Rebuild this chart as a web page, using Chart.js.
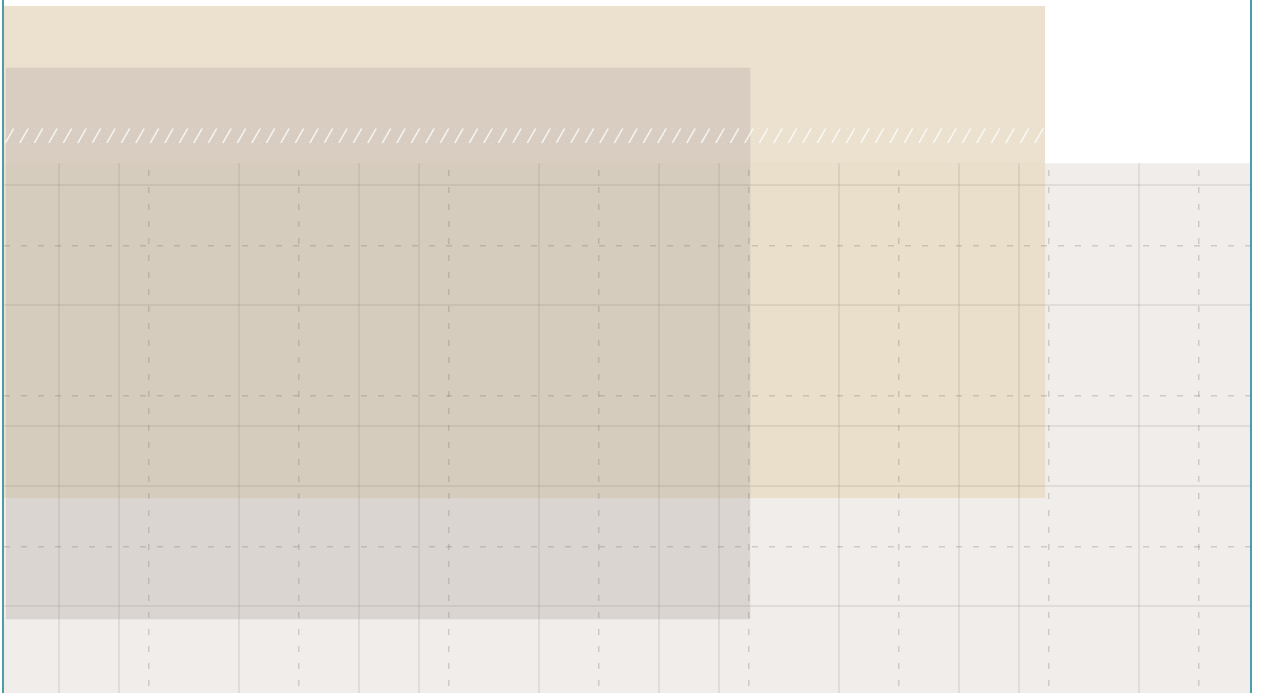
<!DOCTYPE html>
<html>
<head>
<meta charset="utf-8">
<script src="https://cdn.jsdelivr.net/npm/chart.js@4"></script>
<style>
  html, body { margin: 0; padding: 0; background: #ffffff; overflow: hidden; }
  #wrap { position: relative; width: 1263px; height: 693px; }
  #frame { position: absolute; left: 2px; top: 0; width: 1246px; height: 693px;
           border-left: 2px solid #4C9DAA; border-right: 2px solid #4C9DAA; pointer-events: none; }
  canvas { display: block; }
</style>
</head>
<body>
<div id="wrap">
  <canvas id="c" width="1263" height="693"></canvas>
  <div id="frame"></div>
</div>
<script>
// ---- axis ranges (chart units) ----
const xRange = [0.0333, 8.34];
const yRange = [0.025, 4.63];

// ---- grid tick values ----
const xSolidTicks = [0.4, 0.8, 1.6, 2.4, 2.8, 3.6, 4.4, 4.8, 5.6, 6.4, 6.8, 7.6];
const xDashTicks  = [1, 2, 3, 4, 5, 6, 7, 8];
const ySolidTicks = [0.6, 1.4, 1.8, 2.6, 3.4];
const yDashTicks  = [1, 2, 3];

// ---- plot panel ----
const panelTop = 3.545;

// ---- blocks (series) ----
const blockNames  = ['Outer block', 'Inner block'];
const blockStart  = [0.0333, 0.045];
const blockEnd    = [6.975, 5.01];
const blockTop    = [4.59, 4.18];
const blockBottom = [1.32, 0.515];

// ---- hatch strip ----
const hatchStart = 0.0333;
const hatchEnd = 6.975;
const hatchTop = 3.778;
const hatchBottom = 3.678;

const SOLID = 'rgba(140,128,120,0.16)';
const DASH  = 'rgba(120,110,105,0.28)';
const blockColors = ['rgba(232,220,197,0.85)', 'rgba(180,170,165,0.35)'];

let hatchFill = 'rgba(0,0,0,0)';

function buildHatch(chart) {
  const x = chart.scales.x, y = chart.scales.y;
  if (!x || !y) return;
  const top = y.getPixelForValue(hatchTop);
  const bottom = y.getPixelForValue(hatchBottom);
  const left = x.left;
  if (!isFinite(top) || !isFinite(bottom) || !isFinite(left)) return;
  const h = Math.max(2, Math.round(bottom - top));
  const c = document.createElement('canvas');
  c.width = 29; c.height = h;
  const g = c.getContext('2d');
  g.strokeStyle = 'rgba(255,255,255,0.85)';
  g.lineWidth = 1.5;
  g.lineCap = 'round';
  for (const off of [0, 14.5]) {
    g.beginPath();
    g.moveTo(off + 1.5, h - 0.5);
    g.lineTo(off + 9.5, 0.5);
    g.stroke();
  }
  const p = chart.ctx.createPattern(c, 'repeat');
  if (p && p.setTransform) p.setTransform(new DOMMatrix().translate(left, top));
  hatchFill = p || hatchFill;
}

const hatchBuilder = {
  id: 'hatchBuilder',
  afterLayout(chart) { buildHatch(chart); }
};

const panelClip = {
  id: 'panelClip',
  afterDatasetsDraw(chart) {
    const { ctx, chartArea: a, scales } = chart;
    const top = scales.y.getPixelForValue(panelTop);
    ctx.save();
    ctx.beginPath();
    ctx.rect(a.left, top, a.right - a.left, a.bottom - top);
    ctx.clip();
  },
  afterDraw(chart) {
    chart.ctx.restore();
  }
};

const datasets = [
  {
    label: 'Panel',
    data: [{ x: xRange[0], y: panelTop }, { x: xRange[1], y: panelTop }],
    fill: 'start',
    backgroundColor: '#F0EDEA',
    borderColor: 'rgba(0,0,0,0)',
    borderWidth: 0,
    pointRadius: 0,
    order: 4
  }
];
blockNames.forEach((name, i) => {
  datasets.push({
    label: name,
    data: [{ x: blockStart[i], y: blockTop[i] }, { x: blockEnd[i], y: blockTop[i] }],
    fill: { value: blockBottom[i] },
    backgroundColor: blockColors[i],
    borderColor: 'rgba(0,0,0,0)',
    borderWidth: 0,
    pointRadius: 0,
    order: 3 - i
  });
});
datasets.push({
  label: 'Hatch',
  data: [{ x: hatchStart, y: hatchTop }, { x: hatchEnd, y: hatchTop }],
  fill: { value: hatchBottom },
  backgroundColor: () => hatchFill,
  borderColor: 'rgba(0,0,0,0)',
  borderWidth: 0,
  pointRadius: 0,
  order: 1
});

function axis(opts) {
  return Object.assign({
    type: 'linear',
    display: true,
    ticks: { display: false },
    border: { display: false },
  }, opts);
}

new Chart(document.getElementById('c'), {
  type: 'line',
  data: { datasets },
  options: {
    responsive: false,
    animation: false,
    events: [],
    layout: { padding: { left: 4, right: 13, top: 0, bottom: 0 } },
    plugins: { legend: { display: false }, tooltip: { enabled: false } },
    scales: {
      x: axis({
        position: 'bottom', min: xRange[0], max: xRange[1],
        grid: { color: SOLID, lineWidth: 2, drawTicks: false, z: 1 },
        afterBuildTicks: (s) => { s.ticks = xSolidTicks.map(v => ({ value: v })); }
      }),
      x2: axis({
        position: 'top', min: xRange[0], max: xRange[1],
        border: { display: false, dash: [6, 11] },
        grid: { color: DASH, lineWidth: 1.5, drawTicks: false, z: 1 },
        afterBuildTicks: (s) => { s.ticks = xDashTicks.map(v => ({ value: v })); }
      }),
      y: axis({
        position: 'left', min: yRange[0], max: yRange[1],
        grid: { color: SOLID, lineWidth: 2, drawTicks: false, z: 1 },
        afterBuildTicks: (s) => { s.ticks = ySolidTicks.map(v => ({ value: v })); }
      }),
      y2: axis({
        position: 'right', min: yRange[0], max: yRange[1],
        border: { display: false, dash: [6, 11] },
        grid: { color: DASH, lineWidth: 1.5, drawTicks: false, z: 1 },
        afterBuildTicks: (s) => { s.ticks = yDashTicks.map(v => ({ value: v })); }
      })
    }
  },
  plugins: [hatchBuilder, panelClip]
});
</script>
</body>
</html>
